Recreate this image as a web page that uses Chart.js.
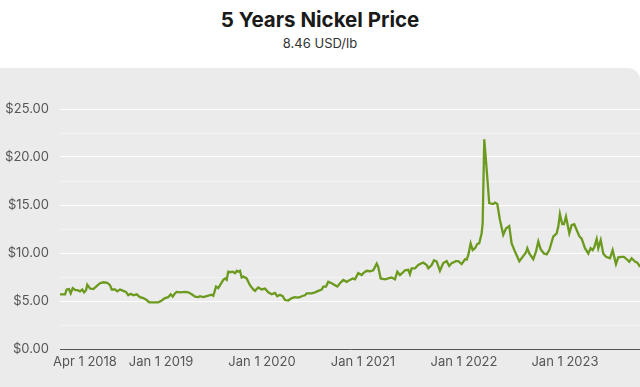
<!DOCTYPE html>
<html>
<head>
<meta charset="utf-8">
<script src="https://cdn.jsdelivr.net/npm/chart.js@4"></script>
<style>
  html, body { margin: 0; padding: 0; background: #ffffff; width: 640px; height: 387px; overflow: hidden; }
  #title { position: absolute; left: 0; top: 7px; width: 640px; text-align: center;
           font-family: Inter, "Noto Sans", sans-serif; font-weight: 700; font-size: 20.5px; color: #1a1a1a; }
  #subtitle { position: absolute; left: 0; top: 35px; width: 640px; text-align: center;
              font-family: Inter, "Noto Sans", sans-serif; font-size: 13px; color: #333; }
  #panel { position: absolute; left: 0; top: 68px; width: 640px; height: 319px; background: #ebebeb;
           border-top-right-radius: 12px; overflow: hidden; }
  canvas { display: block; }
</style>
</head>
<body>
<div id="title">5 Years Nickel Price</div>
<div id="subtitle">8.46 USD/lb</div>
<div id="panel"><canvas id="c" width="640" height="319"></canvas></div>
<script>
// dates as decimal years
const dates = [
2018.000,2018.050,2018.066,2018.089,2018.106,2018.126,2018.149,2018.181,2018.198,2018.221,
2018.238,2018.257,2018.270,2018.297,2018.330,2018.363,2018.396,2018.429,2018.468,2018.495,
2018.512,2018.545,2018.567,2018.594,2018.627,2018.653,2018.676,2018.700,2018.726,2018.759,
2018.792,2018.825,2018.858,2018.884,2018.924,2018.973,2019.007,2019.040,2019.072,2019.096,
2019.116,2019.139,2019.155,2019.188,2019.238,2019.270,2019.304,2019.337,2019.369,2019.386,
2019.419,2019.452,2019.502,2019.518,2019.545,2019.567,2019.591,2019.617,2019.634,2019.650,
2019.666,2019.683,2019.710,2019.733,2019.750,2019.765,2019.782,2019.799,2019.815,2019.848,
2019.881,2019.914,2019.931,2019.963,2019.997,2020.030,2020.062,2020.096,2020.129,2020.151,
2020.178,2020.205,2020.228,2020.260,2020.294,2020.327,2020.350,2020.376,2020.393,2020.426,
2020.443,2020.492,2020.525,2020.557,2020.591,2020.607,2020.634,2020.656,2020.690,2020.723,
2020.746,2020.772,2020.805,2020.839,2020.871,2020.898,2020.921,2020.953,2020.987,2021.003,
2021.037,2021.069,2021.102,2021.136,2021.151,2021.175,2021.218,2021.250,2021.284,2021.317,
2021.340,2021.366,2021.393,2021.416,2021.449,2021.465,2021.482,2021.515,2021.548,2021.564,
2021.597,2021.631,2021.647,2021.680,2021.703,2021.730,2021.762,2021.795,2021.829,2021.854,
2021.878,2021.921,2021.944,2021.977,2022.010,2022.027,2022.043,2022.066,2022.086,2022.109,
2022.132,2022.151,2022.175,2022.185,2022.201,2022.225,2022.250,2022.290,2022.307,2022.330,
2022.356,2022.389,2022.416,2022.448,2022.472,2022.505,2022.548,2022.581,2022.614,2022.627,
2022.647,2022.686,2022.713,2022.736,2022.759,2022.792,2022.819,2022.845,2022.884,2022.918,
2022.934,2022.950,2022.973,2022.990,2023.010,2023.043,2023.066,2023.092,2023.116,2023.142,
2023.165,2023.198,2023.231,2023.254,2023.274,2023.290,2023.314,2023.330,2023.354,2023.379,
2023.406,2023.446,2023.472,2023.505,2023.528,2023.561,2023.584,2023.611,2023.637,2023.660,
2023.693,2023.716,2023.736,2023.743
];
const prices = [
5.70,5.70,6.20,6.25,5.80,6.35,6.15,6.10,6.00,6.20,
5.90,6.10,6.70,6.30,6.25,6.55,6.85,6.95,6.90,6.65,
6.20,6.20,6.00,6.20,6.05,5.95,5.60,5.75,5.60,5.70,
5.40,5.30,5.10,4.85,4.85,4.85,5.05,5.30,5.40,5.70,
5.45,5.80,5.95,5.90,5.95,5.90,5.70,5.45,5.40,5.50,
5.40,5.50,5.65,5.55,6.50,6.35,6.75,7.20,7.35,7.20,
8.05,8.00,8.05,7.90,8.15,8.05,8.15,7.45,7.55,7.35,
6.65,6.20,6.05,6.40,6.20,6.30,5.90,5.70,5.85,5.50,
5.65,5.50,5.10,5.05,5.30,5.40,5.35,5.40,5.50,5.60,
5.80,5.80,5.90,6.05,6.20,6.50,6.50,7.00,6.85,6.65,
6.50,6.85,7.20,7.00,7.20,7.35,7.25,7.90,7.70,7.90,
8.15,8.10,8.20,8.90,8.55,7.35,7.25,7.35,7.45,7.25,
8.05,7.70,7.95,8.20,8.25,7.80,8.40,8.40,8.75,8.85,
9.00,8.75,8.40,8.75,9.25,9.10,8.15,8.95,9.15,8.65,
8.95,9.15,9.15,8.85,9.35,9.30,9.80,11.00,10.30,10.50,
10.95,11.00,12.05,13.10,21.85,18.65,15.20,15.10,15.25,15.10,
13.45,11.90,12.55,12.80,11.00,10.15,9.15,9.60,10.05,10.50,
9.95,9.35,10.15,11.20,10.40,9.95,9.85,10.30,11.70,12.05,
12.75,14.05,13.00,13.00,13.80,12.05,12.90,13.00,12.40,11.75,
11.50,10.50,9.95,10.50,10.30,10.60,11.45,10.50,11.35,9.95,
9.60,9.45,10.30,8.85,9.55,9.60,9.60,9.35,9.10,9.45,
9.10,9.00,8.70,8.55
];
const xTickValues = [2018.247, 2019, 2020, 2021, 2022, 2023];
const xTickLabels = ['Apr 1 2018', 'Jan 1 2019', 'Jan 1 2020', 'Jan 1 2021', 'Jan 1 2022', 'Jan 1 2023'];
const yTickValues = [0, 2.5, 5, 7.5, 10, 12.5, 15, 17.5, 20, 22.5, 25];

const points = dates.map((d, i) => ({ x: d, y: prices[i] }));
const FONT = 'Inter, "Noto Sans", sans-serif';

new Chart(document.getElementById('c'), {
  type: 'line',
  data: {
    datasets: [{
      data: points,
      borderColor: '#6b9a1e',
      borderWidth: 2.3,
      pointRadius: 0,
      tension: 0,
      fill: false
    }]
  },
  options: {
    responsive: false,
    animation: false,
    events: [],
    layout: { padding: { top: 41, left: 0, right: 0, bottom: 0 } },
    plugins: { legend: { display: false }, tooltip: { enabled: false }, title: { display: false } },
    scales: {
      x: {
        type: 'linear',
        min: dates[0],
        max: dates[dates.length - 1],
        grid: { display: false, drawTicks: false },
        border: { display: true, color: '#555555', width: 1 },
        afterBuildTicks: (s) => { s.ticks = xTickValues.map(v => ({ value: v })); },
        afterFit: (s) => { s.height = 38; },
        ticks: {
          autoSkip: false, maxRotation: 0, padding: 5,
          color: '#555555', font: { family: FONT, size: 13 },
          callback: (v, i) => xTickLabels[i]
        }
      },
      y: {
        min: 0, max: 25,
        afterBuildTicks: (s) => { s.ticks = yTickValues.map(v => ({ value: v })); },
        afterFit: (s) => { s.width = 60; },
        grid: {
          drawTicks: false,
          color: (ctx) => (ctx.tick && ctx.tick.value % 5 === 0) ? '#ffffff' : '#f3f3f3',
          lineWidth: 1
        },
        border: { display: false },
        ticks: {
          padding: 11,
          color: '#555555', font: { family: FONT, size: 13 },
          callback: (v) => (v % 5 === 0) ? '$' + v.toFixed(2) : ''
        }
      }
    }
  }
});
</script>
</body>
</html>
